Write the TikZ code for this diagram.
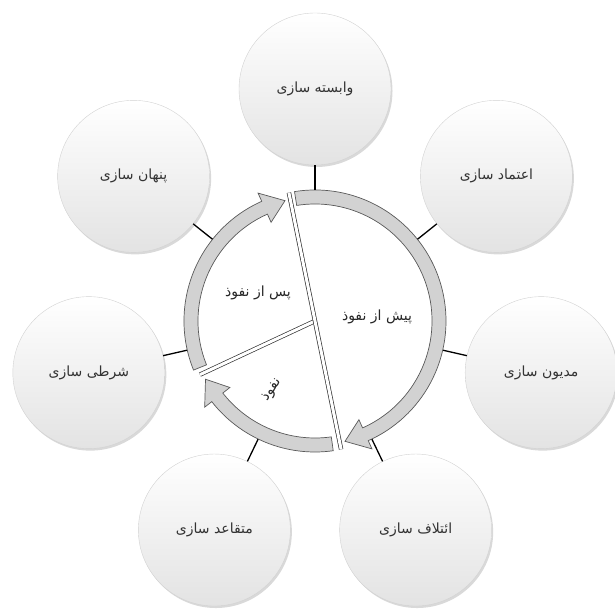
\documentclass[tikz,border=0pt]{standalone}
\usepackage{fontspec}
\newfontfamily\arabicfont[Script=Arabic]{DejaVu Sans}
\TeXXeTstate=1
\usetikzlibrary{shadows}
\newcommand{\fa}[1]{\beginR #1\endR}
\newcommand{\ringarrow}[2]{%
  \pgfmathsetmacro\hb{#2+10}%
  \filldraw[arrowbody] (#1:131) arc[start angle=#1, end angle=\hb, radius=131]
    -- (\hb:140) -- (#2:124) -- (\hb:108) -- (\hb:117)
    arc[start angle=\hb, end angle=#1, radius=117] -- cycle;}
\begin{document}
\begin{tikzpicture}[x=1pt,y=1pt,
  bubble/.style={circle, minimum size=152pt, inner sep=0pt, draw=gray!35,
    line width=0.4pt, top color=white, bottom color=gray!22,
    drop shadow={opacity=0.3, shadow xshift=1.5pt, shadow yshift=-2pt},
    font=\arabicfont\fontsize{14}{16}\selectfont, text=black!80},
  ringlabel/.style={font=\arabicfont\fontsize{14}{16}\selectfont, text=black!85, inner sep=1pt},
  arrowbody/.style={fill=gray!35, draw=black!65, line width=0.7pt, line join=miter},
  divider/.style={draw=black!80, line width=0.7pt, double=white, double distance=3pt},
  link/.style={draw=black, line width=1.3pt}]
\useasboundingbox (0,0) rectangle (615,613);
\begin{scope}[shift={(315,292)}]
  \node[circle, minimum size=262pt, inner sep=0pt] (ring) at (0,0) {};
  % ring arrows
  \ringarrow{99}{-76}
  \ringarrow{-82}{-152}
  \ringarrow{202}{104}
  % dividers
  \coordinate (hub) at (0,0);
  \coordinate (dl) at (205:127);
  \coordinate (dt) at (101.5:131);
  \coordinate (db) at (-78.5:131);
  \draw[divider] (dl) -- (hub);
  \draw[divider] (dt) -- (db);
  % labels
  \node[ringlabel] (lpre) at (62,4) {\fa{پیش از نفوذ}};
  \node[ringlabel] (lpost) at (-57,28) {\fa{پس از نفوذ}};
  \node[ringlabel, rotate=55] (lpen) at (-43,-69) {\fa{نفوذ}};
  % bubbles
  \node[bubble] (b1) at (90:232) {\fa{وابسته سازی}};
  \node[bubble] (b2) at (38.57:232) {\fa{اعتماد سازی}};
  \node[bubble] (b3) at (-12.86:232) {\fa{مدیون سازی}};
  \node[bubble] (b4) at (-64.29:232) {\fa{ائتلاف سازی}};
  \node[bubble] (b5) at (-115.71:232) {\fa{متقاعد سازی}};
  \node[bubble] (b6) at (-167.14:232) {\fa{شرطی سازی}};
  \node[bubble] (b7) at (141.43:232) {\fa{پنهان سازی}};
  \foreach \b in {b1,b2,b3,b4,b5,b6,b7} \draw[link] (ring) -- (\b);
\end{scope}
\end{tikzpicture}
\end{document}
